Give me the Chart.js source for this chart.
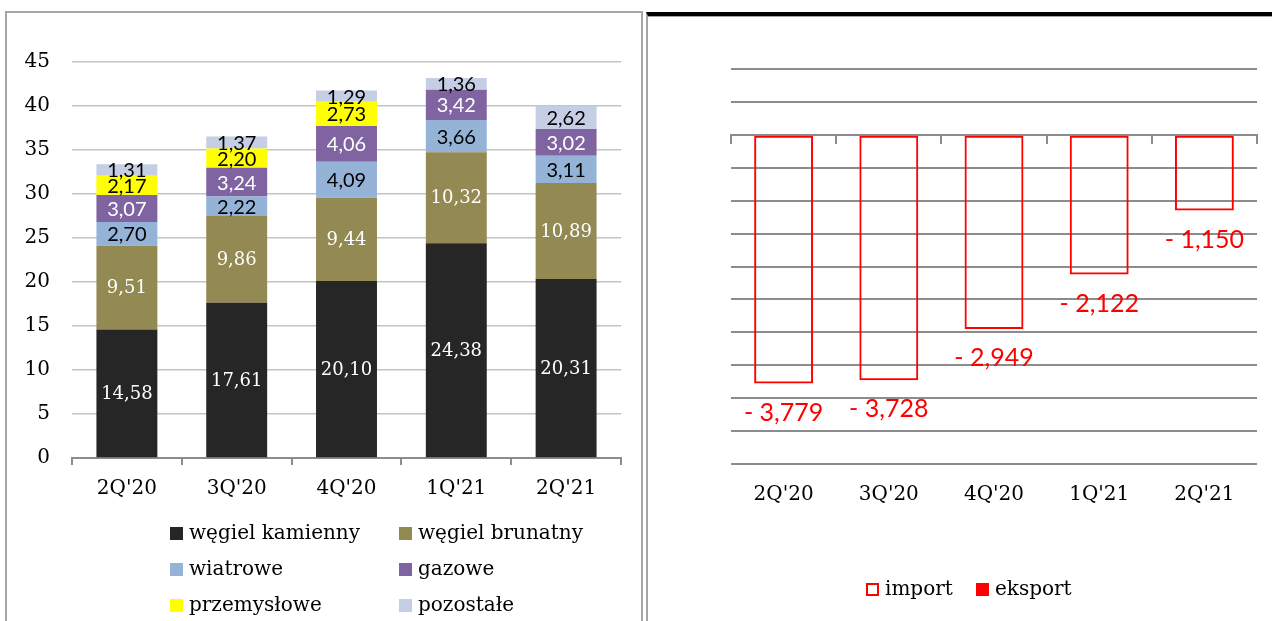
<!DOCTYPE html>
<html>
<head>
<meta charset="utf-8">
<script src="https://cdn.jsdelivr.net/npm/chart.js@4"></script>
<style>
  body { margin: 0; width: 1272px; height: 621px; overflow: hidden; background: #fff; position: relative; }
  #leftBox { position: absolute; left: 5px; top: 11px; width: 634px; height: 700px; border: 2px solid #a6a6a6; }
  #rightBox { position: absolute; left: 646px; top: 12px; width: 640px; height: 700px; border-left: 2px solid #a6a6a6; border-top: 4px solid #000; box-shadow: inset 0 1px 0 #a0a0a0; }
  #c1 { position: absolute; left: 0; top: 0; }
  #c2 { position: absolute; left: 649px; top: 0; }
</style>
</head>
<body>
<div id="leftBox"></div>
<div id="rightBox"></div>
<canvas id="c1" width="640" height="621"></canvas>
<canvas id="c2" width="623" height="621"></canvas>
<script>
// quarters on both charts
const quarters = ["2Q'20", "3Q'20", "4Q'20", "1Q'21", "2Q'21"];

// left chart - generation by source
const wegielKamienny = [14.58, 17.61, 20.10, 24.38, 20.31];
const wegielBrunatny = [9.51, 9.86, 9.44, 10.32, 10.89];
const wiatrowe = [2.70, 2.22, 4.09, 3.66, 3.11];
const gazowe = [3.07, 3.24, 4.06, 3.42, 3.02];
const przemyslowe = [2.17, 2.20, 2.73, 0, 0];
const pozostale = [1.31, 1.37, 1.29, 1.36, 2.62];

// right chart - exchange balance
const importSaldo = [-3.779, -3.728, -2.949, -2.122, -1.150];
const eksportSaldo = [0, 0, 0, 0, 0];

const serif = '"DejaVu Serif", serif';
const sans = 'Lato, sans-serif';

function fmt(v, d) {
    return v.toFixed(d).replace('.', ',');
}

// draws the value labels on bars
const barLabels = {
    id: 'barLabels',
    afterDatasetsDraw(chart) {
        const ctx = chart.ctx;
        ctx.save();
        ctx.textAlign = 'center';
        ctx.textBaseline = 'middle';
        chart.data.datasets.forEach((ds, i) => {
            if (!ds.labelFont) return;
            const meta = chart.getDatasetMeta(i);
            meta.data.forEach((el, j) => {
                const v = ds.data[j];
                if (!v) return;
                ctx.font = ds.labelFont;
                ctx.fillStyle = ds.labelColor;
                if (ds.labelBelow) {
                    ctx.fillText('- ' + fmt(Math.abs(v), 3), el.x, el.y + 29);
                } else {
                    const p = el.getCenterPoint();
                    ctx.fillText(fmt(v, 2), p.x, p.y + 1);
                }
            });
        });
        ctx.restore();
    }
};

// legend drawn on the canvas; items: [x, y] of the marker's left/middle
const boxLegend = {
    id: 'boxLegend',
    afterDraw(chart, args, opts) {
        const ctx = chart.ctx;
        ctx.save();
        ctx.font = '20px ' + serif;
        ctx.textBaseline = 'middle';
        ctx.textAlign = 'left';
        chart.data.datasets.forEach((ds, i) => {
            const [x, y] = opts.spots[i];
            if (ds.borderWidth) {
                ctx.fillStyle = '#fff';
                ctx.fillRect(x, y - 7, 13, 13);
                ctx.strokeStyle = ds.borderColor;
                ctx.lineWidth = 2;
                ctx.strokeRect(x + 1, y - 6, 11, 11);
            } else {
                ctx.fillStyle = ds.backgroundColor;
                ctx.fillRect(x, y - 7, 13, 13);
            }
            ctx.fillStyle = '#000';
            ctx.fillText(ds.label, x + 19, y);
        });
        ctx.restore();
    }
};

const leftSeries = [
    { label: 'węgiel kamienny', data: wegielKamienny, color: '#262626', text: '#fff', font: '18px ' + serif },
    { label: 'węgiel brunatny', data: wegielBrunatny, color: '#938953', text: '#fff', font: '18px ' + serif },
    { label: 'wiatrowe', data: wiatrowe, color: '#95b3d7', text: '#000', font: '20px ' + sans },
    { label: 'gazowe', data: gazowe, color: '#8064a2', text: '#fff', font: '20px ' + sans },
    { label: 'przemysłowe', data: przemyslowe, color: '#ffff00', text: '#000', font: '20px ' + sans },
    { label: 'pozostałe', data: pozostale, color: '#c5cee4', text: '#000', font: '20px ' + sans }
];

new Chart(document.getElementById('c1'), {
    type: 'bar',
    data: {
        labels: quarters,
        datasets: leftSeries.map(s => ({
            label: s.label,
            data: s.data,
            backgroundColor: s.color,
            borderWidth: 0,
            labelColor: s.text,
            labelFont: s.font,
            categoryPercentage: 1,
            barPercentage: 0.555
        }))
    },
    options: {
        responsive: false,
        animation: false,
        layout: { padding: { top: 61.5, right: 19, left: 0, bottom: 0 } },
        plugins: {
            legend: { display: false },
            tooltip: { enabled: false },
            boxLegend: { spots: leftSeries.map((s, i) => [170 + (i % 2) * 229, 534 + Math.floor(i / 2) * 36]) }
        },
        scales: {
            x: {
                stacked: true,
                grid: { drawOnChartArea: false, color: '#8c8c8c', lineWidth: 2, tickLength: 7 },
                border: { color: '#8c8c8c', width: 2 },
                ticks: { color: '#000', font: { family: serif, size: 20 }, padding: 12 },
                afterFit: s => { s.height = 621 - 458; }
            },
            y: {
                stacked: true,
                min: 0,
                max: 45,
                ticks: { stepSize: 5, color: '#000', font: { family: serif, size: 20 }, padding: 22 },
                grid: { drawTicks: false, lineWidth: 1.5, color: c => c.tick.value === 0 ? 'rgba(0,0,0,0)' : '#c4c4c4' },
                border: { display: false },
                afterFit: s => { s.width = 72; }
            }
        }
    },
    plugins: [barLabels, boxLegend]
});

new Chart(document.getElementById('c2'), {
    type: 'bar',
    data: {
        labels: quarters,
        datasets: [
            {
                label: 'import',
                data: importSaldo,
                backgroundColor: 'rgba(255,255,255,0)',
                borderColor: '#ff0000',
                borderWidth: 2,
                borderSkipped: false,
                labelColor: '#ff0000',
                labelFont: '25px ' + sans,
                labelBelow: true,
                categoryPercentage: 1,
                barPercentage: 0.56
            },
            {
                label: 'eksport',
                data: eksportSaldo,
                backgroundColor: '#ff0000',
                borderWidth: 0,
                categoryPercentage: 1,
                barPercentage: 0.56
            }
        ]
    },
    options: {
        responsive: false,
        animation: false,
        layout: { padding: { top: 69, right: 15, left: 0, bottom: 0 } },
        plugins: {
            legend: { display: false },
            tooltip: { enabled: false },
            boxLegend: { spots: [[866 - 649, 590], [976 - 649, 590]] }
        },
        scales: {
            x: {
                stacked: true,
                position: { y: 0 },
                ticks: { display: false },
                grid: { drawOnChartArea: false, color: '#8c8c8c', lineWidth: 2, tickLength: 8 },
                border: { color: '#8c8c8c', width: 2 }
            },
            xl: {
                type: 'category',
                labels: quarters,
                position: 'bottom',
                grid: { display: false, drawTicks: false },
                border: { display: false },
                ticks: { color: '#000', font: { family: serif, size: 20 }, padding: 19 },
                afterFit: s => { s.height = 621 - 464; }
            },
            y: {
                stacked: true,
                min: -5,
                max: 1,
                ticks: { display: false, stepSize: 0.5 },
                grid: { drawTicks: false, color: '#8c8c8c', lineWidth: 2 },
                border: { display: false },
                afterFit: s => { s.width = 82; }
            }
        }
    },
    plugins: [barLabels, boxLegend]
});
</script>
</body>
</html>
